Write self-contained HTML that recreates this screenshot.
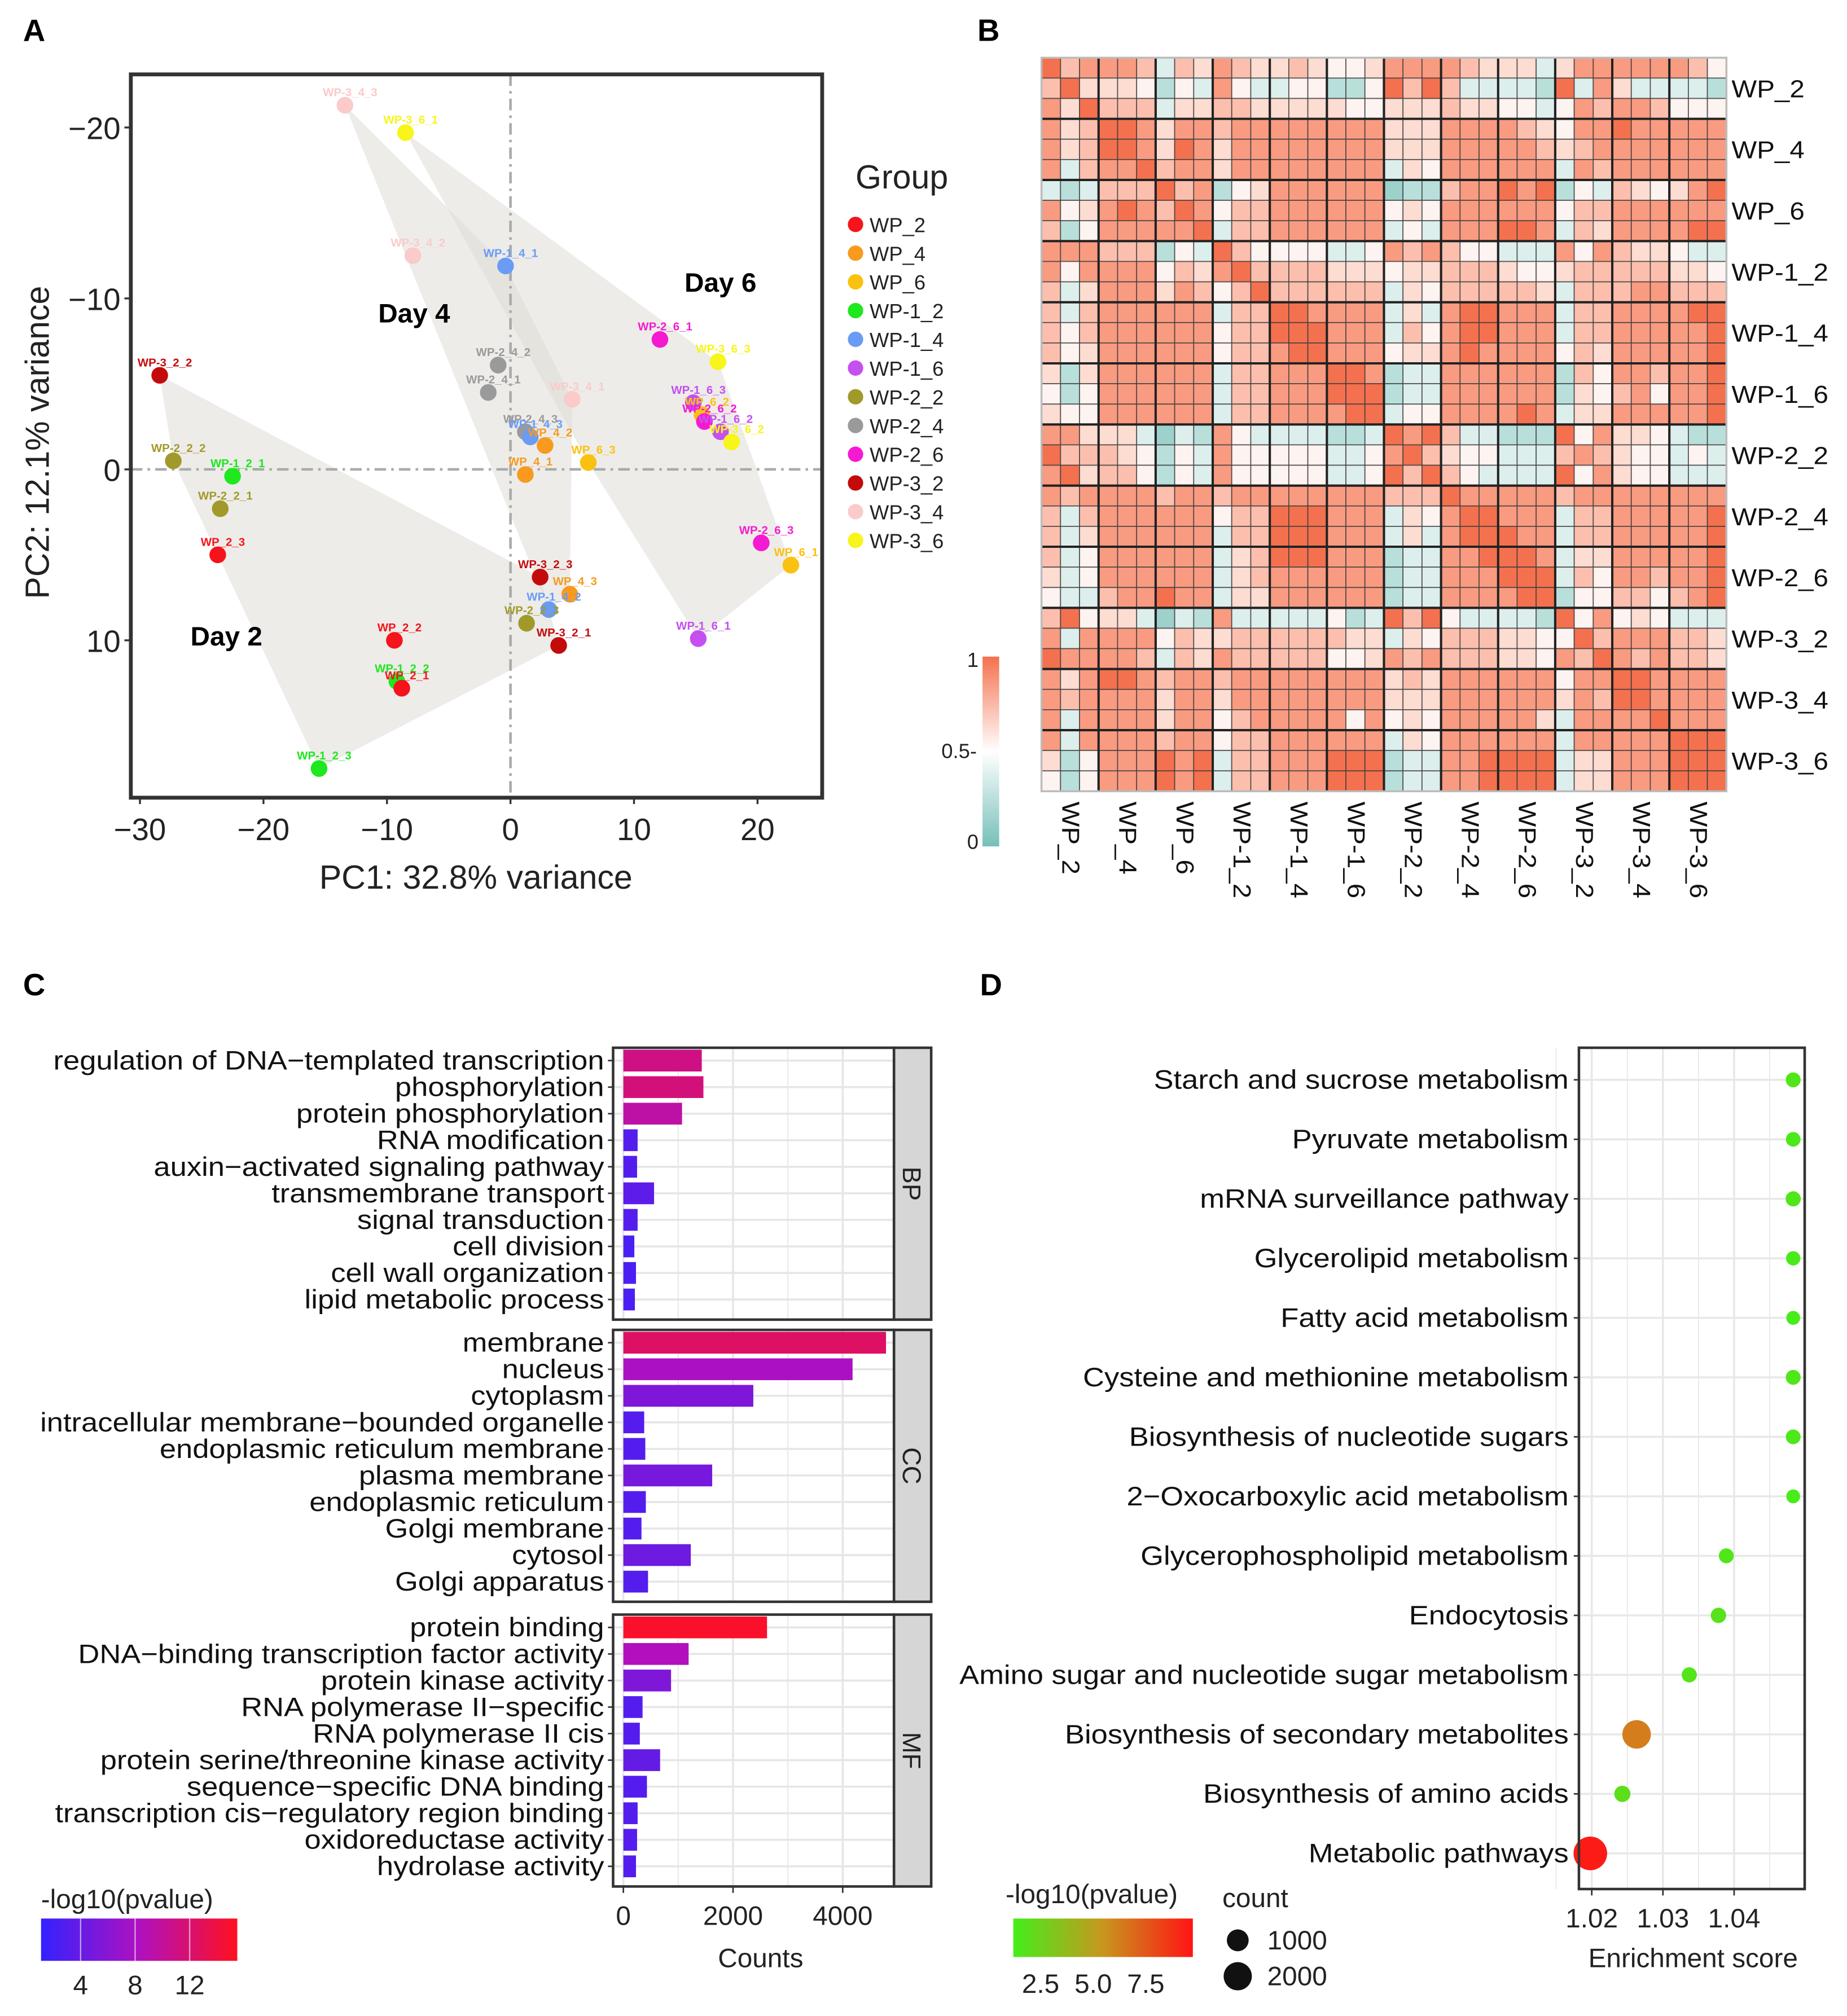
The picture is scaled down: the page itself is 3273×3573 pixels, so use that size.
<!DOCTYPE html>
<html><head><meta charset="utf-8">
<style>
html,body{margin:0;padding:0;background:#fff;}
svg{display:block;font-family:"Liberation Sans",Arial,sans-serif;}
</style></head>
<body>
<svg id="fig" xmlns="http://www.w3.org/2000/svg" width="3273" height="3573" viewBox="0 0 1440 1572">
<rect x="0" y="0" width="1440" height="1572" fill="#fff"/>
<g font-weight="bold" font-size="24">
<text x="18" y="32">A</text>
<text x="762" y="32">B</text>
<text x="18" y="776">C</text>
<text x="764" y="776">D</text>
</g>
<g id="pca"></g>
<g id="heat"></g>
<g id="go"></g>
<g id="kegg"></g>
</svg>
<script>
// ---------- PCA data ----------
const groupNames = ['WP_2','WP_4','WP_6','WP-1_2','WP-1_4','WP-1_6','WP-2_2','WP-2_4','WP-2_6','WP-3_2','WP-3_4','WP-3_6'];
const sampleNames = ['WP-3_4_3','WP-3_6_1','WP-3_4_2','WP-1_4_1','WP-2_6_1','WP-3_6_3','WP-3_2_2','WP-2_4_2','WP-2_4_1','WP-3_4_1','WP-1_6_3','WP-2_4_3','WP-1_4_3','WP_4_2','WP_6_2','WP-2_6_2','WP-1_6_2','WP-3_6_2','WP_6_3','WP_4_1','WP-2_2_2','WP-1_2_1','WP-2_2_1','WP_2_3','WP-2_6_3','WP_6_1','WP-3_2_3','WP_4_3','WP-1_4_2','WP-2_2_3','WP_2_2','WP-3_2_1','WP-1_6_1','WP-1_2_2','WP_2_1','WP-1_2_3'];
const sampleGroup = [10,11,10,4,8,11,9,7,7,10,5,7,4,1,2,8,5,11,2,1,6,3,6,0,8,2,9,1,4,6,0,9,5,3,0,3];
const pc1 = [-13.4,-8.5,-7.9,-0.4,12.1,16.8,-28.4,-1.0,-1.8,5.0,14.8,1.2,1.6,2.8,15.5,15.7,17.0,17.9,6.3,1.2,-27.3,-22.5,-23.5,-23.7,20.3,22.7,2.4,4.8,3.1,1.3,-9.4,3.9,15.2,-9.2,-8.8,-15.5];
const pc2 = [-21.3,-19.7,-12.5,-11.9,-7.6,-6.3,-5.5,-6.1,-4.5,-4.1,-3.9,-2.2,-1.9,-1.4,-3.2,-2.8,-2.2,-1.6,-0.4,0.3,-0.5,0.4,2.3,5.0,4.3,5.6,6.3,7.3,8.2,9.0,10.0,10.3,9.9,12.4,12.8,17.5];
const pcaXTicks = [-30,-20,-10,0,10,20];
const pcaYTicks = [-20,-10,0,10];
const groupColors = ['#f5141c','#f79a1e','#fbc111','#1ee81e','#6a9cf5','#c54ff0','#a19a2a','#9a9a9a','#f51ad2','#c40b0b','#fbcaca','#f7f51a'];

// ---------- heatmap data ----------
const heatRows = [
"978887476876676556888876664688888875","796665354854455335979744443948644443",
"869777466776666655666766554587887555","867998688788888888666888876588988888",
"867998698688888888666888887678888888","847889788688888888465888888487888888",
"434777978356888888233788989354765689","856898798577888888565888888577888888",
"735888889477888888454888998476888899","888777354975555445878755444858766544",
"858888576897777666566777655677777665","746888687579777777465777776477788777",
"747888888477998888464899888477888899","757888888577999888475899888477888889",
"756888888577899888566898888576888889","636888888477888998344888888375887889",
"535888888477888999344888888365785889","655888888477888899455888898466888889",
"886664243854444334989744333958665433","977765354855555445897655444787655454",
"896775354855555445979754444958655444","878888788788888888777988888788888888",
"747888888577999888465899888477888889","746888888477999888464899988477888889",
"745888888467999888344889998466888889","645888888467888888344888999475887889",
"544788988466888888344888899355775789","795664243844444534979544443958565444",
"848888576677777766465777665597888776","988887476877777556878777665879878776",
"868998788788888888676888888588998888","878888688688888888666888888687998888",
"848888688578888858565888886488889888","848888788577888888465888888488888999",
"635888989477888999344889999466888999","535888989477888999344889999466888999"];
const heatLabels = groupNames;

// ---------- GO data ----------
const goTerms = [
 ['regulation of DNA\u2212templated transcription','phosphorylation','protein phosphorylation','RNA modification','auxin\u2212activated signaling pathway','transmembrane transport','signal transduction','cell division','cell wall organization','lipid metabolic process'],
 ['membrane','nucleus','cytoplasm','intracellular membrane\u2212bounded organelle','endoplasmic reticulum membrane','plasma membrane','endoplasmic reticulum','Golgi membrane','cytosol','Golgi apparatus'],
 ['protein binding','DNA\u2212binding transcription factor activity','protein kinase activity','RNA polymerase II\u2212specific','RNA polymerase II cis','protein serine/threonine kinase activity','sequence\u2212specific DNA binding','transcription cis\u2212regulatory region binding','oxidoreductase activity','hydrolase activity']];
const goCategories = ['BP','CC','MF'];
const goCounts = [
 [1430,1460,1070,260,250,560,260,200,230,210],
 [4790,4180,2370,380,400,1620,410,330,1230,450],
 [2620,1190,870,350,300,670,430,260,250,230]];
const goPval = [
 [11,11.5,9.5,3,3,3.5,3,2.5,2.5,2.5],
 [12.5,8,5.5,3,3,5,3,3,4.5,3],
 [15,8.5,5.5,3,3,4,3,3,3,3]];
const goXTicks = [0,2000,4000];
const goLegendTicks = [4,8,12];

// ---------- KEGG data ----------
const keggTerms = ['Starch and sucrose metabolism','Pyruvate metabolism','mRNA surveillance pathway','Glycerolipid metabolism','Fatty acid metabolism','Cysteine and methionine metabolism','Biosynthesis of nucleotide sugars','2\u2212Oxocarboxylic acid metabolism','Glycerophospholipid metabolism','Endocytosis','Amino sugar and nucleotide sugar metabolism','Biosynthesis of secondary metabolites','Biosynthesis of amino acids','Metabolic pathways'];
const keggScore = [1.0483,1.0483,1.0483,1.0483,1.0483,1.0483,1.0483,1.0483,1.0389,1.0378,1.0337,1.0263,1.0243,1.0198];
const keggCount = [90,80,100,70,55,90,85,55,90,110,100,1400,150,2300];
const keggPval = [1.6,1.5,1.6,1.4,1.3,1.6,1.5,1.3,1.6,1.8,1.7,6.3,2.0,9.5];
const keggXTicks = [1.02,1.03,1.04];
const keggLegendTicks = [2.5,5.0,7.5];
const keggSizeTicks = [1000,2000];

const NS='http://www.w3.org/2000/svg';
function mk(tag, attrs, parent){const e=document.createElementNS(NS,tag);for(const k in attrs)e.setAttribute(k,attrs[k]);parent.appendChild(e);return e;}
function txt(s, attrs, parent){const e=mk('text',attrs,parent);e.textContent=s;return e;}
function stretch(t,f){const w=t.getComputedTextLength();t.setAttribute('textLength',w*f);t.setAttribute('lengthAdjust','spacingAndGlyphs');}

// ================= PCA =================
(function(){
 const g=document.getElementById('pca');
 const L=102,R=641,T=58,B=622;
 const xs=v=>398+v*9.63, ys=v=>366+v*13.33;
 function hull(pts){pts=pts.slice().sort((a,b)=>a[0]-b[0]||a[1]-b[1]);const cr=(o,a,b)=>(a[0]-o[0])*(b[1]-o[1])-(a[1]-o[1])*(b[0]-o[0]);const lo=[],up=[];for(const p of pts){while(lo.length>=2&&cr(lo[lo.length-2],lo[lo.length-1],p)<=0)lo.pop();lo.push(p);}for(const p of pts.slice().reverse()){while(up.length>=2&&cr(up[up.length-2],up[up.length-1],p)<=0)up.pop();up.push(p);}up.pop();lo.pop();return lo.concat(up);}
 for(let d=0;d<3;d++){
  const pts=[];for(let i=0;i<pc1.length;i++){if(sampleGroup[i]%3===d)pts.push([xs(pc1[i]),ys(pc2[i])]);}
  const h=hull(pts);
  const p=mk('polygon',{points:h.map(q=>q.join(',')).join(' '),fill:'#dcd9d4','fill-opacity':'0.5'},g);
  
  
 }
 const vl=mk('line',{x1:xs(0),x2:xs(0),y1:T,y2:B,stroke:'#aaa','stroke-width':2,'stroke-dasharray':'9 4 2 4'},g);
 
 
 const hl=mk('line',{x1:L,x2:R,y1:ys(0),y2:ys(0),stroke:'#aaa','stroke-width':2,'stroke-dasharray':'9 4 2 4'},g);
 
 
 const days=[['Day 2',-23,10.3],['Day 4',-7.8,-8.6],['Day 6',17,-10.4]];
 days.forEach(d=>{const t=txt(d[0],{x:xs(d[1]),y:ys(d[2]),'font-size':21,'font-weight':'bold','text-anchor':'middle'},g);
  
  });
 for(let i=0;i<pc1.length;i++){
  const c=groupColors[sampleGroup[i]];
  const cx=xs(pc1[i]),cy=ys(pc2[i]);
  const dot=mk('circle',{cx:cx,cy:cy,r:6.5,fill:c},g);
  
  
  const lb=txt(sampleNames[i],{x:cx+4,y:cy-7,'font-size':9,'font-weight':'bold',fill:c,'text-anchor':'middle'},g);
  
  
 }
 const fr=mk('rect',{x:L,y:T,width:R-L,height:B-T,fill:'none',stroke:'#333','stroke-width':3},g);
 
 
 pcaXTicks.forEach(v=>{const x=xs(v);
  const tk=mk('line',{x1:x,x2:x,y1:B,y2:B+5,stroke:'#333','stroke-width':1.5},g);
  
  
  const t=txt(String(v).replace('-','\u2212'),{x:x,y:B+33,'font-size':24,'text-anchor':'middle',fill:'#222'},g);
  
  });
 pcaYTicks.forEach(v=>{const y=ys(v);
  const tk=mk('line',{x1:L-5,x2:L,y1:y,y2:y,stroke:'#333','stroke-width':1.5},g);
  
  
  const t=txt(String(v).replace('-','\u2212'),{x:L-8,y:y+9,'font-size':24,'text-anchor':'end',fill:'#222'},g);
  
  });
 const xt=txt('PC1: 32.8% variance',{x:371,y:693,'font-size':26,'text-anchor':'middle',fill:'#222'},g);
 
 
 const yt=txt('PC2: 12.1% variance',{x:0,y:0,'font-size':26,'text-anchor':'middle',fill:'#222',transform:'translate(38,345) rotate(-90)'},g);
 
 
 const lt=txt('Group',{x:667,y:147,'font-size':26,fill:'#222'},g);
 
 
 groupNames.forEach((n,i)=>{const y=175+i*22.4;
  const c=mk('circle',{cx:667,cy:y,r:6,fill:groupColors[i]},g);
  
  
  const t=txt(n,{x:678,y:y+6,'font-size':16,fill:'#222'},g);
  
  });
})();

// ================= Heatmap =================
(function(){
 const g=document.getElementById('heat');
 const x0=812,x1=1346,y0=45,y1=617,n=36;
 const cw=(x1-x0)/n,ch=(y1-y0)/n;
 const pal=['#76bfb9','#86c6c1','#9dd1cc','#b9dfdb','#ddefed','#fdf3f0','#fddcd2','#fcbfae','#f99b81','#f4714f'];
 for(let r=0;r<n;r++)for(let c=0;c<n;c++){
  const d=+heatRows[r][c];
  const cell=mk('rect',{x:x0+c*cw,y:y0+r*ch,width:cw,height:ch,fill:pal[d],stroke:'#3a3a3a','stroke-width':0.8,'stroke-opacity':0.75},g);
  
  
 }
 for(let k=1;k<12;k++){
  const lv=mk('line',{x1:x0+k*3*cw,x2:x0+k*3*cw,y1:y0,y2:y1,stroke:'#222','stroke-width':1.8},g);
  
  
  const lh=mk('line',{x1:x0,x2:x1,y1:y0+k*3*ch,y2:y0+k*3*ch,stroke:'#222','stroke-width':1.8},g);
  
  
 }
 const fr=mk('rect',{x:x0,y:y0,width:x1-x0,height:y1-y0,fill:'none',stroke:'#bbb','stroke-width':1.5},g);
 
 
 heatLabels.forEach((l,i)=>{
  const yc=y0+(i*3+1.5)*ch, xc=x0+(i*3+1.5)*cw;
  const t=txt(l,{x:x1+4,y:yc+7,'font-size':19,fill:'#111'},g);
  
  
  stretch(t,1.1);
  const t2=txt(l,{x:0,y:0,'font-size':19,fill:'#111',transform:'translate('+(xc-6)+','+(y1+8)+') rotate(90)'},g);
  
  
  stretch(t2,1.1);
 });
 const defs=mk('defs',{},g);
 const lg=mk('linearGradient',{id:'hg',x1:0,y1:0,x2:0,y2:1},defs);
 mk('stop',{offset:'0','stop-color':'#f4714f'},lg);mk('stop',{offset:'0.5','stop-color':'#ffffff'},lg);mk('stop',{offset:'1','stop-color':'#76bfb9'},lg);
 const cb=mk('rect',{x:766,y:512,width:13,height:148,fill:'url(#hg)'},g);
 
 
 [['1',520],['0.5-',591],['0',662]].forEach(a=>{const t=txt(a[0],{x:a[0]==='0.5-'?734:754,y:a[1],'font-size':16,fill:'#222'},g);
  
  });
})();

// ================= GO bar chart =================
(function(){
 const g=document.getElementById('go');
 const L=478,R=697,facetTop=[817,1037,1259],fh=212;
 const xs=v=>486+v*0.04275;
 function pcol(p){const t=Math.max(0,Math.min(1,(p-1.1)/(15.5-1.1)));
  const a=[51,34,255],m=[176,16,192],b=[255,16,32];let c;
  if(t<0.5){const u=t/0.5;c=a.map((v,i)=>Math.round(v+(m[i]-v)*u));}else{const u=(t-0.5)/0.5;c=m.map((v,i)=>Math.round(v+(b[i]-v)*u));}
  return 'rgb('+c.join(',')+')';}
 goCategories.forEach((cat,f)=>{
  const top=facetTop[f];
  const bg=mk('rect',{x:L,y:top,width:R-L,height:fh,fill:'#fff'},g);
  
  
  for(let v=0;v<=5000;v+=1000){const gl=mk('line',{x1:xs(v),x2:xs(v),y1:top,y2:top+fh,stroke:'#e6e6e6','stroke-width':v%2000===0?1.6:0.8},g);
   
   }
  const step=20.7, first=top+10;
  goTerms[f].forEach((term,i)=>{
   const yc=first+i*step;
   const gl=mk('line',{x1:L,x2:R,y1:yc,y2:yc,stroke:'#e6e6e6','stroke-width':1.6},g);
   
   
   const b=mk('rect',{x:xs(0),y:yc-8.5,width:xs(goCounts[f][i])-xs(0),height:17,fill:pcol(goPval[f][i])},g);
   
   
   const t=txt(term,{x:L-7,y:yc+7,'font-size':21,'text-anchor':'end',fill:'#111'},g);
   
   
   stretch(t,1.1);
   const tk=mk('line',{x1:L-4,x2:L,y1:yc,y2:yc,stroke:'#333','stroke-width':1.2},g);
   
   
  });
  const fr=mk('rect',{x:L,y:top,width:R-L,height:fh,fill:'none',stroke:'#333','stroke-width':2},g);
  
  
  const st=mk('rect',{x:R,y:top,width:29,height:fh,fill:'#d6d6d6',stroke:'#333','stroke-width':2},g);
  
  
  const stt=txt(cat,{x:0,y:0,'font-size':20,'text-anchor':'middle',fill:'#222',transform:'translate('+(R+7)+','+(top+fh/2)+') rotate(90)'},g);
  
  
 });
 goXTicks.forEach(v=>{const x=xs(v);
  const tk=mk('line',{x1:x,x2:x,y1:1471,y2:1476,stroke:'#333','stroke-width':1.2},g);
  
  
  const t=txt(String(v),{x:x,y:1501,'font-size':21,'text-anchor':'middle',fill:'#222'},g);
  
  });
 const xt=txt('Counts',{x:593,y:1534,'font-size':21,'text-anchor':'middle',fill:'#222'},g);
 
 
 const lt=txt('-log10(pvalue)',{x:32,y:1488,'font-size':21,fill:'#222'},g);
 
 
 const defs=mk('defs',{},g);
 const lg=mk('linearGradient',{id:'gg',x1:0,y1:0,x2:1,y2:0},defs);
 mk('stop',{offset:'0','stop-color':'#3322ff'},lg);mk('stop',{offset:'0.5','stop-color':'#b010c0'},lg);mk('stop',{offset:'1','stop-color':'#ff1020'},lg);
 const cb=mk('rect',{x:32,y:1496,width:153,height:33,fill:'url(#gg)'},g);
 
 
 goLegendTicks.forEach(v=>{const x=32+(v-1.1)*10.63;
  const tk=mk('line',{x1:x,x2:x,y1:1496,y2:1529,stroke:'#fff','stroke-width':1,'stroke-opacity':0.6},g);
  
  
  const t=txt(String(v),{x:x,y:1555,'font-size':21,'text-anchor':'middle',fill:'#222'},g);
  
  });
})();

// ================= KEGG dot plot =================
(function(){
 const g=document.getElementById('kegg');
 const L=1231,R=1407,T=817,B=1473;
 const xs=v=>1241+(v-1.02)*5550;
 const ys=i=>842+i*46.4;
 const rs=c=>4+0.19*Math.sqrt(c);
 function pcol(p){const t=Math.max(0,Math.min(1,(p-1.2)/(9.75-1.2)));
  const a=[68,238,26],m=[200,150,30],b=[255,20,20];let c;
  if(t<0.5){const u=t/0.5;c=a.map((v,i)=>Math.round(v+(m[i]-v)*u));}else{const u=(t-0.5)/0.5;c=m.map((v,i)=>Math.round(v+(b[i]-v)*u));}
  return 'rgb('+c.join(',')+')';}
 const bg=mk('rect',{x:L,y:T,width:R-L,height:B-T,fill:'#fff'},g);
 
 
 for(let k=0;k<8;k++){const v=1.015+k*0.005;const gl=mk('line',{x1:xs(v),x2:xs(v),y1:T,y2:B,stroke:'#e8e8e8','stroke-width':k%2===1?1.6:0.8},g);
  
  }
 keggTerms.forEach((term,i)=>{const y=ys(i);
  const gl=mk('line',{x1:L,x2:R,y1:y,y2:y,stroke:'#e8e8e8','stroke-width':1.6},g);
  
  
  const tk=mk('line',{x1:L-4,x2:L,y1:y,y2:y,stroke:'#333','stroke-width':1.2},g);
  
  
  const t=txt(term,{x:L-8,y:y+7,'font-size':21,'text-anchor':'end',fill:'#111'},g);
  
  
  stretch(t,1.1);
 });
 keggTerms.forEach((term,i)=>{
  const c=mk('circle',{cx:xs(keggScore[i]),cy:ys(i),r:rs(keggCount[i]),fill:pcol(keggPval[i])},g);
  
  
 });
 const fr=mk('rect',{x:L,y:T,width:R-L,height:B-T,fill:'none',stroke:'#333','stroke-width':2},g);
 
 
 keggXTicks.forEach(v=>{const x=xs(v);
  const tk=mk('line',{x1:x,x2:x,y1:B,y2:B+5,stroke:'#333','stroke-width':1.2},g);
  
  
  const t=txt(v.toFixed(2),{x:x,y:B+30,'font-size':21,'text-anchor':'middle',fill:'#222'},g);
  
  });
 const xt=txt('Enrichment score',{x:1320,y:1534,'font-size':21,'text-anchor':'middle',fill:'#222'},g);
 
 
 const lt=txt('-log10(pvalue)',{x:784,y:1484,'font-size':21,fill:'#222'},g);
 
 
 const defs=mk('defs',{},g);
 const lg=mk('linearGradient',{id:'kg',x1:0,y1:0,x2:1,y2:0},defs);
 mk('stop',{offset:'0','stop-color':'#44ee1a'},lg);mk('stop',{offset:'0.5','stop-color':'#c8961e'},lg);mk('stop',{offset:'1','stop-color':'#ff1414'},lg);
 const cb=mk('rect',{x:790,y:1496,width:140,height:30,fill:'url(#kg)'},g);
 
 
 keggLegendTicks.forEach(v=>{const x=790+(v-1.2)*16.4;
  const t=txt(v.toFixed(1),{x:x,y:1554,'font-size':21,'text-anchor':'middle',fill:'#222'},g);
  
  });
 const st=txt('count',{x:953,y:1487,'font-size':21,fill:'#222'},g);
 
 
 keggSizeTicks.forEach((v,i)=>{const y=1513+i*28;
  const c=mk('circle',{cx:965,cy:y,r:rs(v)-1.5,fill:'#111'},g);
  
  
  const t=txt(String(v),{x:988,y:y+7,'font-size':21,fill:'#222'},g);
  
  });
})();
</script>
</body></html>
